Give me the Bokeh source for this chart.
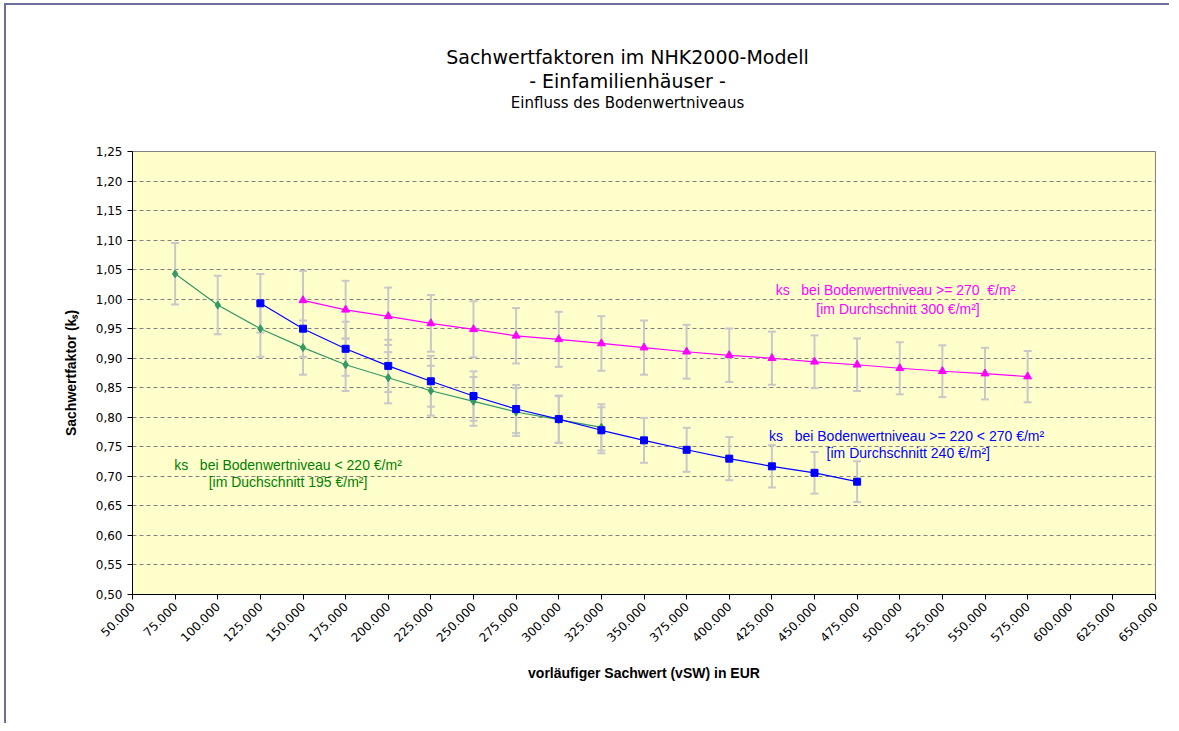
import numpy as np
from bokeh.plotting import figure
from bokeh.models import (ColumnDataSource, Whisker, TeeHead, FixedTicker,
                          CustomJSTickFormatter, Label, Range1d, Title)
from bokeh.embed import file_html
from bokeh.resources import INLINE

# ---------------- data ----------------
x_ticks = [50000, 75000, 100000, 125000, 150000, 175000, 200000, 225000, 250000,
           275000, 300000, 325000, 350000, 375000, 400000, 425000, 450000, 475000,
           500000, 525000, 550000, 575000, 600000, 625000, 650000]
y_ticks = [0.50, 0.55, 0.60, 0.65, 0.70, 0.75, 0.80, 0.85, 0.90, 0.95, 1.00,
           1.05, 1.10, 1.15, 1.20, 1.25]

x_green = [75000, 100000, 125000, 150000, 175000, 200000, 225000, 250000,
           275000, 300000, 325000]
y_green = [1.043, 0.990, 0.950, 0.918, 0.889, 0.867, 0.845, 0.827, 0.809,
           0.796, 0.783]

x_blue = [125000, 150000, 175000, 200000, 225000, 250000, 275000, 300000,
          325000, 350000, 375000, 400000, 425000, 450000, 475000]
y_blue = [0.993, 0.950, 0.916, 0.887, 0.861, 0.836, 0.814, 0.797, 0.778,
          0.761, 0.745, 0.730, 0.717, 0.706, 0.691]

x_mag = [150000, 175000, 200000, 225000, 250000, 275000, 300000, 325000,
         350000, 375000, 400000, 425000, 450000, 475000, 500000, 525000,
         550000, 575000]
y_mag = [0.998, 0.982, 0.971, 0.959, 0.949, 0.938, 0.932, 0.925, 0.918,
         0.911, 0.905, 0.900, 0.894, 0.889, 0.883, 0.878, 0.874, 0.869]

error_pct = 5.0  # percentage error bars as in the source chart

title_lines = ["Sachwertfaktoren im NHK2000-Modell", "- Einfamilienhäuser -",
               "Einfluss des Bodenwertniveaus"]
x_label = "vorläufiger Sachwert (vSW) in EUR"
y_label = "Sachwertfaktor (kₛ)"

NB = "\u00a0"
note_mag = ["ks" + NB * 3 + "bei Bodenwertniveau >= 270" + NB * 2 + "€/m²",
            "[im Durchschnitt 300 €/m²]"]
note_blue = ["ks" + NB * 3 + "bei Bodenwertniveau >= 220 < 270 €/m²",
             "[im Durchschnitt 240 €/m²]"]
note_green = ["ks" + NB * 3 + "bei Bodenwertniveau < 220 €/m²",
              "[im Duchschnitt 195 €/m²]"]

# ---------------- figure ----------------
p = figure(width=1165, height=720, output_backend="svg", toolbar_location=None,
           x_range=Range1d(50000, 650000), y_range=Range1d(0.5, 1.25),
           min_border_left=126, min_border_right=16, min_border_top=146,
           min_border_bottom=131)
p.background_fill_color = "#ffffcc"
p.border_fill_color = "white"
p.outline_line_color = "#808080"
p.outline_line_width = 1
p.styles = {"border-top": "2px solid #6e6e9e", "border-left": "2px solid #6e6e9e",
            "margin-top": "3px", "margin-left": "4px"}

TPAD = dict(left=0, right=33, top=0, bottom=0)


def title_kw(size):
    return dict(align="center", padding=TPAD, text_font="DejaVu Sans",
                text_font_size=size, text_font_style="normal",
                text_color="black", standoff=0)


# title block: p.title is outermost, added titles stack outward from the frame
p.title.text = title_lines[0]
for k, v in title_kw("19px").items():
    setattr(p.title, k, v)
# invisible spacer between the frame and the title block
p.add_layout(Title(text=NB, align="center", text_font_size="2px",
                   text_color="white", standoff=36), "above")
p.add_layout(Title(text=title_lines[2], **title_kw("15px")), "above")
p.add_layout(Title(text=title_lines[1], **title_kw("19px")), "above")

p.xgrid.visible = False
p.ygrid.grid_line_color = "#808080"
p.ygrid.grid_line_dash = "4 3"
p.ygrid.grid_line_width = 1

for ax in (p.xaxis[0], p.yaxis[0]):
    ax.axis_line_color = "black"
    ax.major_tick_line_color = "black"
    ax.major_tick_in = 0
    ax.major_tick_out = 5
    ax.minor_tick_line_color = None
    ax.major_label_text_font = "DejaVu Sans"
    ax.major_label_text_font_size = "12px"
    ax.major_label_text_color = "black"
    ax.axis_label_text_font = "Liberation Sans"
    ax.axis_label_text_font_size = "14px"
    ax.axis_label_text_font_style = "bold"
    ax.axis_label_text_color = "black"

p.xaxis.ticker = FixedTicker(ticks=x_ticks)
p.yaxis.ticker = FixedTicker(ticks=y_ticks)
p.xaxis.formatter = CustomJSTickFormatter(code="return (tick/1000).toFixed(0) + '.000';")
p.yaxis.formatter = CustomJSTickFormatter(code="return tick.toFixed(2).replace('.', ',');")
p.xaxis.major_label_orientation = np.pi / 4
p.xaxis.axis_label = x_label
p.yaxis.axis_label = y_label
p.xaxis.axis_label_standoff = 16
p.yaxis.axis_label_standoff = 14


def series(xs, ys, color, marker, size):
    f = error_pct / 100.0
    src = ColumnDataSource(dict(x=xs, y=ys,
                                lo=[v * (1 - f) for v in ys],
                                hi=[v * (1 + f) for v in ys]))
    w = Whisker(base="x", upper="hi", lower="lo", source=src,
                line_color="#c8c8c8", line_width=2, level="underlay",
                upper_head=TeeHead(size=8, line_color="#c8c8c8", line_width=2),
                lower_head=TeeHead(size=8, line_color="#c8c8c8", line_width=2))
    p.add_layout(w)
    p.line("x", "y", source=src, line_color=color, line_width=1.2)
    p.scatter("x", "y", source=src, marker=marker, size=size,
              fill_color=color, line_color=color)


series(x_green, y_green, "#339966", "diamond", 8)
series(x_blue, y_blue, "#0000ff", "square", 7)
series(x_mag, y_mag, "#ff00ff", "triangle", 8)


def note(lines, xs, ys, color):
    for t, xx, yy in zip(lines, xs, ys):
        p.add_layout(Label(x=xx, y=yy, text=t, text_align="center",
                           text_baseline="middle", text_font="Liberation Sans",
                           text_font_size="14px", text_color=color))


note(note_mag, [497500, 499000], [1.016, 0.984], "#ff00ff")
note(note_blue, [504000, 505000], [0.769, 0.739], "#0000ff")
note(note_green, [141200, 141200], [0.720, 0.690], "#008000")

open("out.html", "w").write(file_html(p, INLINE))
